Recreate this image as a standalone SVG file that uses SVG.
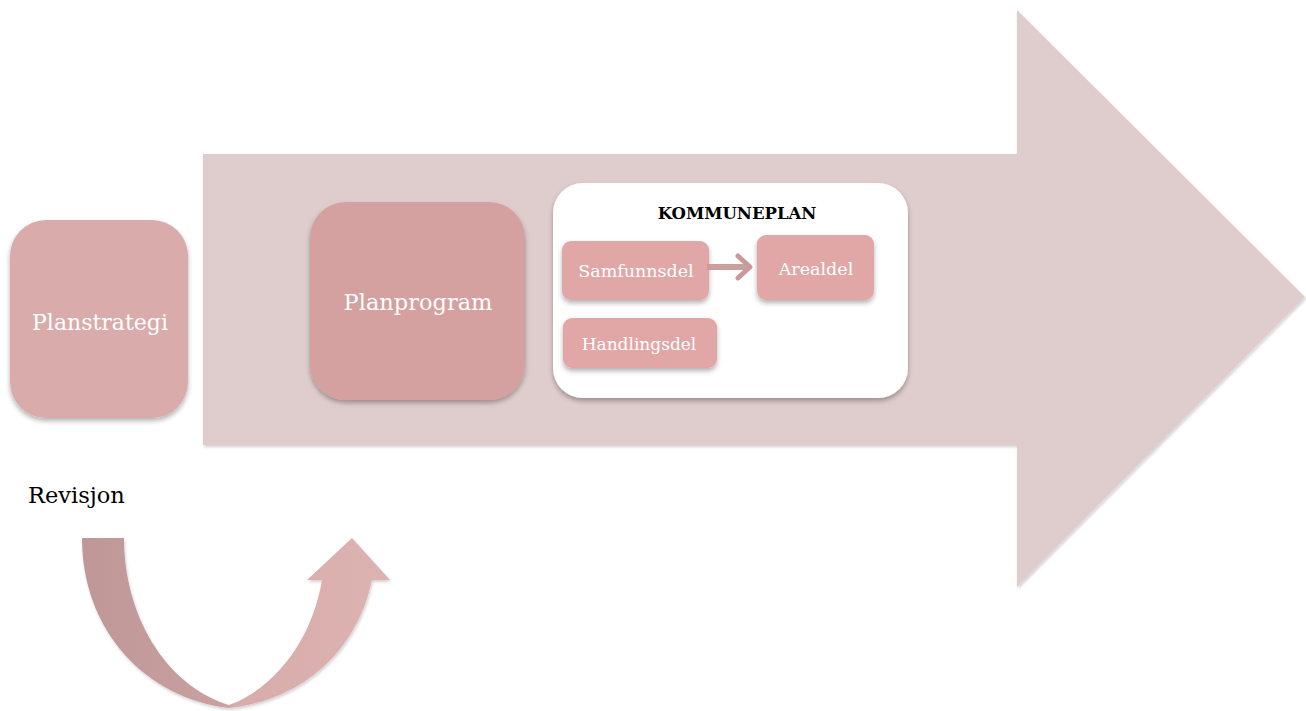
<svg xmlns="http://www.w3.org/2000/svg" width="1306" height="711" viewBox="0 0 1306 711">
<defs>
<filter id="sh" x="-20%" y="-20%" width="140%" height="150%">
<feDropShadow dx="0" dy="3" stdDeviation="2.5" flood-color="#000" flood-opacity="0.3"/>
</filter>
<filter id="sh2" x="-10%" y="-10%" width="120%" height="120%">
<feDropShadow dx="1" dy="2" stdDeviation="1.5" flood-color="#000" flood-opacity="0.18"/>
</filter>
<linearGradient id="ug" x1="82" y1="0" x2="390" y2="0" gradientUnits="userSpaceOnUse">
<stop offset="0" stop-color="#bf9797"/>
<stop offset="0.45" stop-color="#c9a0a0"/>
<stop offset="0.5" stop-color="#d7acab"/>
<stop offset="1" stop-color="#ddb3b2"/>
</linearGradient>
<marker id="ah" markerWidth="22" markerHeight="28" refX="16" refY="14" orient="auto" markerUnits="userSpaceOnUse" viewBox="0 0 22 28">
<path d="M4,3 L16,14 L4,25" fill="none" stroke="#c99a9a" stroke-width="5" stroke-linecap="round" stroke-linejoin="round"/>
</marker>
<style>
.lbl{font-family:"DejaVu Serif","Liberation Serif",serif;fill:#ffffff;text-anchor:middle}
.box{fill:#e0a7a6}
</style>
</defs>
<rect width="1306" height="711" fill="#ffffff"/>
<g id="bigArrow">
<polygon points="203,154 1017,154 1017,10 1305,297 1017,587 1017,445 203,445" fill="#dfcccc" filter="url(#sh2)"/>
</g>
<g id="planstrategi">
<rect x="10" y="220" width="178" height="198" rx="36" fill="#d9abaa" filter="url(#sh)"/>
<text class="lbl" x="100" y="330" font-size="22">Planstrategi</text>
</g>
<g id="planprogram">
<rect x="310" y="202" width="215" height="198" rx="36" fill="#d4a0a0" filter="url(#sh)"/>
<text class="lbl" x="418" y="310" font-size="22.5">Planprogram</text>
</g>
<g id="kommuneplan">
<rect x="553" y="183" width="355" height="215" rx="30" fill="#ffffff" filter="url(#sh)"/>
<text x="737" y="219" font-family="DejaVu Serif,Liberation Serif,serif" font-size="16.5" font-weight="bold" fill="#000" text-anchor="middle">KOMMUNEPLAN</text>
</g>
<g id="samfunnsdel">
<rect class="box" x="562" y="241" width="147" height="59" rx="9" filter="url(#sh)"/>
<text class="lbl" x="636" y="277" font-size="17.5">Samfunnsdel</text>
</g>
<g id="arealdel">
<rect class="box" x="757" y="235" width="117" height="65" rx="9" filter="url(#sh)"/>
<text class="lbl" x="816" y="275" font-size="17.5">Arealdel</text>
</g>
<g id="handlingsdel">
<rect class="box" x="563" y="318" width="154" height="50" rx="9" filter="url(#sh)"/>
<text class="lbl" x="639" y="350" font-size="17">Handlingsdel</text>
</g>
<g id="connectors">
<line x1="707" y1="267" x2="750" y2="267" stroke="#c99a9a" stroke-width="6" stroke-opacity="0.95" marker-end="url(#ah)"/>
</g>
<g id="revisjon">
<text x="28" y="503" font-family="DejaVu Serif,Liberation Serif,serif" font-size="22.5" fill="#000">Revisjon</text>
<path d="M82,538 L124,538 C124,615 165,685 229,705 C275,688 312,640 322,580 L307,580 L352,538 L390,580 L372,580 C358,648 305,700 229,708 C145,698 82,630 82,538 Z" fill="url(#ug)" filter="url(#sh2)"/>
</g>
</svg>
